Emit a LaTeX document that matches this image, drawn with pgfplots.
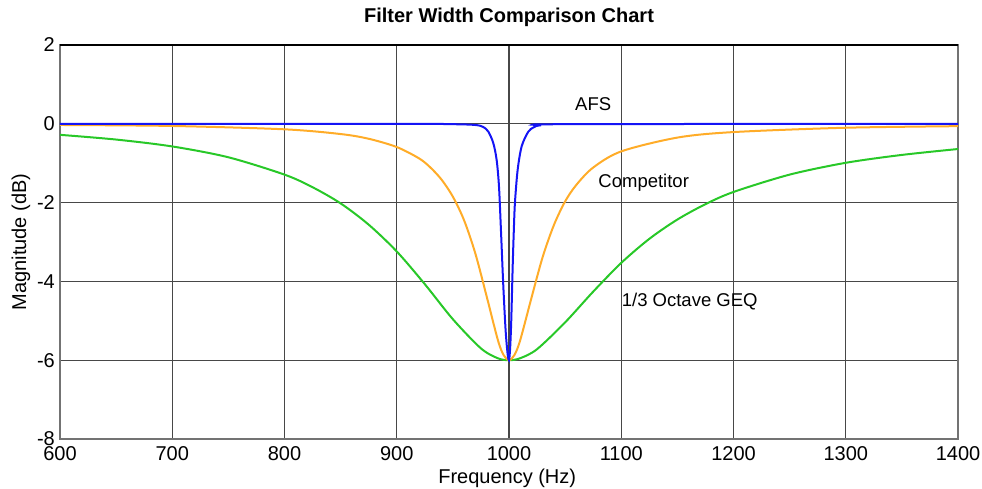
\documentclass[border=0pt]{standalone}
\usepackage{pgfplots}
\pgfplotsset{compat=1.18}
\usepackage{fontspec}
\setmainfont{Liberation Sans}
\definecolor{afsblue}{RGB}{20,20,245}
\definecolor{comporange}{RGB}{255,172,40}
\definecolor{geqgreen}{RGB}{40,200,40}
\begin{document}
\begin{tikzpicture}
\useasboundingbox (-60pt,-50pt) rectangle (922pt,439pt);
\begin{axis}[
  at={(0,0)}, anchor=south west,
  scale only axis, width=898pt, height=394pt,
  xmin=600, xmax=1400, ymin=-8, ymax=2,
  xtick={600,700,...,1400}, ytick={-8,-6,...,2},
  grid=major, grid style={black!72, line width=1.3pt},
  axis line style={black!55, line width=1.5pt},
  major tick length=0pt,
  /pgf/number format/assume math mode=true,
  /pgf/number format/1000 sep={},
  tick label style={font=\fontsize{20}{20}\selectfont},
  xticklabel style={inner sep=0pt, anchor=north, yshift=-7pt},
  yticklabel style={inner sep=0pt, anchor=east, xshift=-5pt},
  xlabel={Frequency (Hz)}, ylabel={Magnitude (dB)},
  label style={font=\fontsize{20}{20}\selectfont},
  xlabel style={at={(axis description cs:0.498,-0.099)}, anchor=center, inner sep=0pt},
  ylabel style={at={(axis description cs:-0.0434,0.5)}, anchor=center, inner sep=0pt},
  title={Filter Width Comparison Chart},
  title style={font=\fontsize{20}{20}\selectfont\bfseries, at={(axis description cs:0.5,1.056)}, anchor=center, inner sep=0pt},
  clip=true,
]
\addplot[geqgreen, line width=2pt, smooth, tension=0.5] coordinates {
(600,-0.28)(650,-0.40)(700,-0.575)(750,-0.85)(800,-1.29)(825,-1.61)(850,-2.02)
(875,-2.56)(900,-3.24)(925,-4.07)(950,-4.96)(975,-5.70)(990,-5.95)(1000,-6.0)
(1010,-5.95)(1025,-5.72)(1050,-5.04)(1075,-4.26)(1100,-3.53)(1125,-2.92)(1150,-2.43)
(1175,-2.04)(1200,-1.73)(1250,-1.29)(1300,-0.99)(1350,-0.79)(1400,-0.64)
};
\addplot[comporange, line width=2pt, smooth, tension=0.5] coordinates {
(600,-0.03)(700,-0.055)(800,-0.14)(850,-0.26)(875,-0.38)(900,-0.59)(920,-0.88)
(930,-1.11)(940,-1.42)(950,-1.85)(960,-2.45)(970,-3.29)(980,-4.37)(990,-5.48)
(995,-5.86)(1000,-6.0)(1005,-5.86)(1010,-5.49)(1020,-4.42)(1030,-3.38)(1040,-2.57)
(1050,-1.97)(1060,-1.55)(1075,-1.11)(1100,-0.70)(1150,-0.35)(1200,-0.21)(1300,-0.10)(1400,-0.06)
};
\addplot[afsblue, line width=2pt, smooth, tension=0.5] coordinates {
(600,0)(900,0)(950,-0.01)(970,-0.03)(977,-0.08)(981.6,-0.20)(986,-0.49)(989,-0.92)
(991.1,-1.60)(992.9,-2.75)(994.9,-4.10)(997,-5.25)(998.8,-5.85)(1000,-6.0)
(1001,-5.70)(1002,-5.00)(1003.3,-3.60)(1004.3,-2.70)(1005.3,-2.00)(1007.7,-1.17)(1011.3,-0.57)
(1017.2,-0.20)(1022,-0.09)(1027.6,-0.04)(1050,-0.01)(1400,0)
};
\draw[black, line width=2.2pt] (rel axis cs:0,1) -- (rel axis cs:1,1);
\node[font=\fontsize{18.5}{18.5}\selectfont, inner sep=0pt] at (axis cs:1075,0.51) {AFS};
\node[font=\fontsize{18.5}{18.5}\selectfont, inner sep=0pt] at (axis cs:1120,-1.50) {Competitor};
\node[font=\fontsize{18.5}{18.5}\selectfont, inner sep=0pt] at (axis cs:1161,-4.51) {1/3 Octave GEQ};
\end{axis}
\end{tikzpicture}
\end{document}
